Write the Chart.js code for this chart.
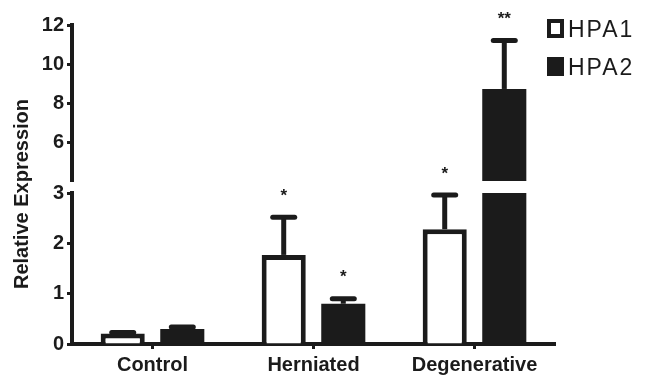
<!DOCTYPE html>
<html><head><meta charset="utf-8">
<script src="https://cdn.jsdelivr.net/npm/chart.js@4/dist/chart.umd.min.js"></script>
<style>
html,body{margin:0;padding:0;background:#fff;}
#wrap{position:relative;width:660px;height:378px;overflow:hidden;}
#wrap canvas{position:absolute;left:0;top:0;}
</style></head><body>
<div id="wrap"><canvas id="lo" width="660" height="378"></canvas><canvas id="hi" width="660" height="378"></canvas></div>
<script>
// ---- data ----
const categories = ['Control', 'Herniated', 'Degenerative'];
const seriesNames = ['HPA1', 'HPA2'];
const hpa1 = [0.21, 1.77, 2.28];
const hpa1ErrTop = [0.23, 2.52, 2.96];
const hpa2 = [0.30, 0.80, 8.72];
const hpa2ErrTop = [0.34, 0.90, 11.2];
const hpa1Sig = ['', '*', '*'];
const hpa2Sig = ['', '*', '**'];
const lowTicks = [0, 1, 2, 3];
const highTicks = [6, 8, 10, 12];
const yTitle = 'Relative Expression';

const INK = '#1b1b1b';
const FONT = "'Liberation Sans', Arial, Helvetica, sans-serif";
Chart.defaults.font.family = FONT;
Chart.defaults.color = INK;

const errTops = [hpa1ErrTop, hpa2ErrTop];
const sigs = [hpa1Sig, hpa2Sig];

function makeDatasets() {
  return [
    { label: seriesNames[0], data: hpa1, backgroundColor: '#ffffff', borderColor: INK, borderWidth: 5, clip: 0,
      categoryPercentage: 0.74, barPercentage: 0.74 },
    { label: seriesNames[1], data: hpa2, backgroundColor: INK, borderColor: INK, borderWidth: 0, clip: 0,
      categoryPercentage: 0.74, barPercentage: 0.74 }
  ];
}

const errorPlugin = {
  id: 'errs',
  afterDatasetsDraw(chart) {
    const ctx = chart.ctx, ys = chart.scales.y, a = chart.chartArea;
    chart.data.datasets.forEach((ds, i) => {
      const meta = chart.getDatasetMeta(i);
      meta.data.forEach((el, j) => {
        const v = ds.data[j], t = errTops[i][j];
        const x = el.x;
        const y0 = ys.getPixelForValue(v), y1 = ys.getPixelForValue(t);
        ctx.save();
        ctx.beginPath();
        ctx.rect(a.left, a.top - 4, a.right - a.left, a.bottom - a.top + 4);
        ctx.clip();
        ctx.strokeStyle = INK;
        ctx.lineWidth = 5;
        ctx.beginPath(); ctx.moveTo(x, y0); ctx.lineTo(x, y1); ctx.stroke();
        ctx.restore();
        if (t >= ys.min && t <= ys.max) {
          ctx.save();
          ctx.strokeStyle = INK; ctx.lineWidth = 5; ctx.lineCap = 'round';
          ctx.beginPath(); ctx.moveTo(x - 11, y1); ctx.lineTo(x + 11, y1); ctx.stroke();
          if (sigs[i][j]) {
            ctx.fillStyle = INK;
            ctx.font = 'bold 17px ' + FONT;
            ctx.textAlign = 'center'; ctx.textBaseline = 'middle';
            ctx.fillText(sigs[i][j], x, y1 - 21);
          }
          ctx.restore();
        }
      });
    });
  }
};

const commonX = {
  type: 'category',
  offset: true,
  grid: { display: true, drawOnChartArea: false, offset: false, tickLength: 5, tickWidth: 3, tickColor: INK },
  border: { display: true, width: 4, color: INK },
  ticks: { font: { size: 20, weight: 'bold' }, color: INK, padding: 4, maxRotation: 0 }
};

function yAxis(min, max, ticks) {
  return {
    type: 'linear', min: min, max: max,
    afterBuildTicks(s) { s.ticks = ticks.map(v => ({ value: v })); },
    afterFit(s) { s.width = 72; },
    grid: { display: true, drawOnChartArea: false, tickLength: 5, tickWidth: 3, tickColor: INK },
    border: { display: true, width: 4, color: INK },
    ticks: { font: { size: 20, weight: 'bold' }, color: INK, padding: 3 }
  };
}

// lower chart (0..3)
new Chart(document.getElementById('lo'), {
  type: 'bar',
  data: { labels: categories, datasets: makeDatasets() },
  options: {
    responsive: false, animation: false, devicePixelRatio: 1,
    layout: { padding: { top: 193, right: 105, left: 0, bottom: 0 } },
    plugins: { legend: { display: false }, tooltip: { enabled: false } },
    scales: {
      x: Object.assign({}, commonX, { afterFit(s) { s.height = 34; } }),
      y: yAxis(0, 3, lowTicks)
    }
  },
  plugins: [errorPlugin, {
    id: 'ytitle',
    afterDraw(chart) {
      const ctx = chart.ctx;
      ctx.save();
      ctx.translate(22, 194);
      ctx.rotate(-Math.PI / 2);
      ctx.fillStyle = INK;
      ctx.font = 'bold 20px ' + FONT;
      ctx.textAlign = 'center'; ctx.textBaseline = 'middle';
      ctx.fillText(yTitle, 0, 0);
      ctx.restore();
    }
  }]
});

// upper chart (4..12)
new Chart(document.getElementById('hi'), {
  type: 'bar',
  data: { labels: categories, datasets: makeDatasets() },
  options: {
    responsive: false, animation: false, devicePixelRatio: 1,
    layout: { padding: { top: 25, right: 105, left: 0, bottom: 197 } },
    plugins: { legend: { display: false }, tooltip: { enabled: false } },
    scales: {
      x: Object.assign({}, commonX, { display: false }),
      y: yAxis(4, 12, highTicks)
    }
  },
  plugins: [errorPlugin, {
    id: 'legendBox',
    afterDraw(chart) {
      const ctx = chart.ctx;
      chart.data.datasets.forEach((ds, i) => {
        const cy = 29 + i * 38;
        ctx.save();
        ctx.fillStyle = INK;
        ctx.fillRect(547, cy - 10, 17, 19);
        if (ds.backgroundColor !== INK) {
          ctx.fillStyle = ds.backgroundColor;
          ctx.fillRect(551, cy - 6, 9, 11);
        }
        ctx.fillStyle = INK;
        ctx.font = '23px ' + FONT;
        if ('letterSpacing' in ctx) ctx.letterSpacing = '2px';
        ctx.textAlign = 'left'; ctx.textBaseline = 'middle';
        ctx.fillText(ds.label, 568, cy + 2);
        ctx.restore();
      });
    }
  }]
});
</script>
</body></html>
